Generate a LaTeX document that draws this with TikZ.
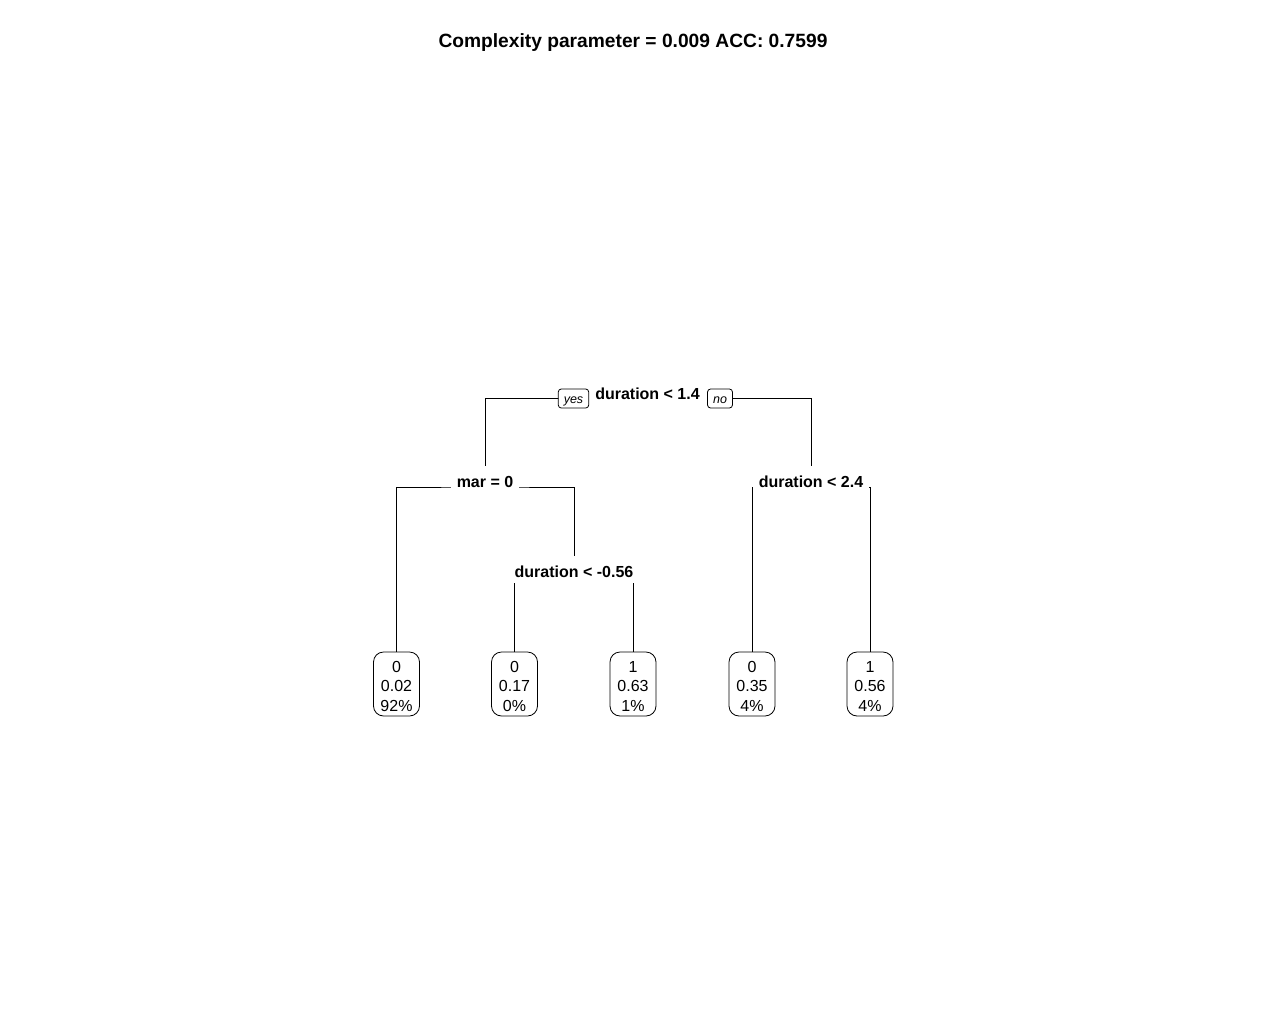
\documentclass[tikz,border=0pt]{standalone}
\usepackage{fontspec}
\setmainfont{Liberation Sans}
\usetikzlibrary{backgrounds}
\begin{document}
\begin{tikzpicture}[x=1pt,y=-1pt,
  split/.style={font=\fontsize{16}{19}\selectfont\bfseries, fill=white, text height=21pt, text depth=6pt, inner xsep=6pt, inner ysep=0pt, anchor=base},
  leaf/.style={draw, line width=0.8pt, rounded corners=10pt, fill=white, minimum width=46pt, minimum height=64pt, text height=59pt, text depth=5pt, inner sep=0pt, align=center, font=\fontsize{16}{19.5}\selectfont},
  tag/.style={draw, line width=0.8pt, rounded corners=3pt, fill=white, minimum height=19pt, text height=9pt, text depth=0pt, inner xsep=5.5pt, inner ysep=0pt, font=\fontsize{12.5}{14}\selectfont\itshape},
  branch/.style={line width=0.9pt}]
\useasboundingbox (0,0) rectangle (1267,1031);
\node[font=\fontsize{19.2}{22}\selectfont\bfseries, anchor=base] (title) at (633,47) {Complexity parameter = 0.009 ACC: 0.7599};
\node[split] (root) at (647.5,399) {duration < 1.4};
\node[tag] (yes) at (573.5,398.5) {yes};
\node[tag] (no) at (720,398.5) {no};
\node[split] (mar) at (485,487) {mar = 0};
\node[split] (d24) at (811,487) {duration < 2.4};
\node[split] (d056) at (574,577) {duration < -0.56};
\node[leaf] (l1) at (396.5,684) {0\\0.02\\92\%};
\node[leaf] (l2) at (514.5,684) {0\\0.17\\0\%};
\node[leaf] (l3) at (633,684) {1\\0.63\\1\%};
\node[leaf] (l4) at (752,684) {0\\0.35\\4\%};
\node[leaf] (l5) at (870,684) {1\\0.56\\4\%};
\begin{scope}[on background layer]
\fill[white] (0,0) rectangle (1267,1031);
\draw[branch] (yes.center) -| (mar.north);
\draw[branch] (no.center) -| (d24.north);
\draw[branch] (l1.north) |- (mar.base) -| (d056.north);
\draw[branch] (l4.north) |- (d24.base) -| (l5.north);
\draw[branch] (l2.north) |- (d056.base) -| (l3.north);
\end{scope}
\end{tikzpicture}
\end{document}
